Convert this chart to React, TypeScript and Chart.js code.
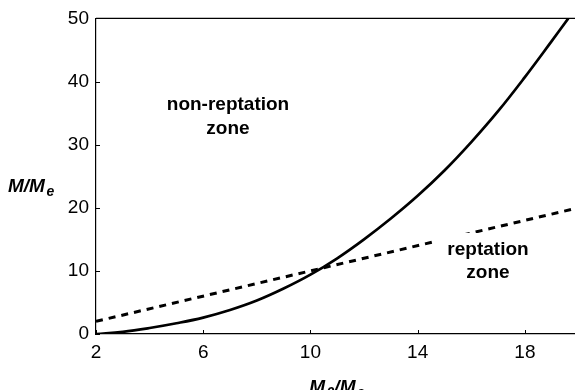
import React, { useEffect, useRef } from "react";
import { Chart, registerables } from "chart.js";

Chart.register(...registerables);

const CURVE_X = [2, 3, 4, 5, 6, 7, 8, 9, 10, 11, 12, 13, 14, 15, 16, 17, 18, 19, 19.62];
const CURVE_Y = [0, 0.35, 0.95, 1.7, 2.6, 3.8, 5.3, 7.2, 9.4, 12.0, 15.0, 18.3, 21.9, 25.9, 30.4, 35.3, 40.7, 46.4, 50];
const LINE_X = [2, 20];
const LINE_Y = [2, 20];
const X_TICKS = [2, 6, 10, 14, 18];
const Y_TICKS = [0, 10, 20, 30, 40, 50];

const FONT = "'Liberation Sans', Arial, Helvetica, sans-serif";

const decorPlugin = {
  id: "decor",
  afterDatasetsDraw(chart: any) {
    const { ctx } = chart;
    ctx.save();
    // white label box over dashed line
    ctx.fillStyle = "#fff";
    ctx.fillRect(436, 233, 104, 52);
    ctx.restore();
  },
  afterDraw(chart: any) {
    const { ctx, chartArea, scales } = chart;
    const { left, right, top, bottom } = chartArea;
    ctx.save();
    ctx.strokeStyle = "#000";
    ctx.lineWidth = 1.2;
    // top border
    ctx.beginPath();
    ctx.moveTo(left, top);
    ctx.lineTo(right, top);
    ctx.stroke();
    // inward ticks
    ctx.lineWidth = 1;
    for (const v of X_TICKS) {
      const px = Math.round(scales.x.getPixelForValue(v)) + 0.5;
      ctx.beginPath();
      ctx.moveTo(px, bottom);
      ctx.lineTo(px, bottom - 4);
      ctx.stroke();
    }
    for (const v of Y_TICKS) {
      const py = Math.round(scales.y.getPixelForValue(v)) + 0.5;
      ctx.beginPath();
      ctx.moveTo(left, py);
      ctx.lineTo(left + 4, py);
      ctx.stroke();
    }
    // annotations
    ctx.fillStyle = "#000";
    ctx.textAlign = "center";
    ctx.textBaseline = "alphabetic";
    ctx.font = `bold 19px ${FONT}`;
    ctx.fillText("non-reptation", 228, 110);
    ctx.fillText("zone", 228, 134);
    ctx.fillText("reptation", 488, 255);
    ctx.fillText("zone", 488, 278);

    // axis titles with subscripts
    const drawParts = (parts: { t: string; sub: boolean }[], x: number, base: number, align: string) => {
      const big = `italic bold 19px ${FONT}`;
      const small = `italic bold 14px ${FONT}`;
      let total = 0;
      for (const p of parts) {
        ctx.font = p.sub ? small : big;
        total += ctx.measureText(p.t).width + (p.sub ? 1.5 : 0);
      }
      let cx = align === "center" ? x - total / 2 : x;
      ctx.textAlign = "left";
      for (const p of parts) {
        ctx.font = p.sub ? small : big;
        ctx.fillText(p.t, cx + (p.sub ? 1.5 : 0), base + (p.sub ? 4 : 0));
        cx += ctx.measureText(p.t).width + (p.sub ? 1.5 : 0);
      }
    };
    drawParts(
      [
        { t: "M/M", sub: false },
        { t: "e", sub: true },
      ],
      8,
      192,
      "left"
    );
    drawParts(
      [
        { t: "M", sub: false },
        { t: "0", sub: true },
        { t: "/M", sub: false },
        { t: "e", sub: true },
      ],
      337,
      393,
      "center"
    );
    ctx.restore();
  },
};

export default function App() {
  const ref = useRef<HTMLCanvasElement>(null);
  useEffect(() => {
    const canvas = ref.current;
    if (!canvas) return;
    const chart = new Chart(canvas, {
      type: "line",
      data: {
        datasets: [
          {
            data: CURVE_X.map((x, i) => ({ x, y: CURVE_Y[i] })),
            borderColor: "#000",
            borderWidth: 2.7,
            pointRadius: 0,
            tension: 0.4,
            fill: false,
          },
          {
            data: LINE_X.map((x, i) => ({ x, y: LINE_Y[i] })),
            borderColor: "#000",
            borderWidth: 3,
            borderDash: [7, 6],
            pointRadius: 0,
            fill: false,
          },
        ],
      },
      options: {
        responsive: false,
        animation: false,
        devicePixelRatio: 1,
        layout: { padding: { top: 17, right: 0, left: 0, bottom: 0 } },
        plugins: { legend: { display: false }, tooltip: { enabled: false } },
        scales: {
          x: {
            type: "linear",
            min: 2,
            max: 19.87,
            afterBuildTicks: (s: any) => {
              s.ticks = X_TICKS.map((v) => ({ value: v }));
            },
            afterFit: (s: any) => {
              s.height = 56;
            },
            grid: { display: false, drawTicks: false },
            border: { display: true, color: "#000", width: 1.2 },
            ticks: {
              color: "#000",
              font: { family: FONT, size: 19 },
              padding: 7,
              maxRotation: 0,
              autoSkip: false,
            },
          },
          y: {
            type: "linear",
            min: 0,
            max: 50,
            afterBuildTicks: (s: any) => {
              s.ticks = Y_TICKS.map((v) => ({ value: v }));
            },
            afterFit: (s: any) => {
              s.width = 96;
            },
            grid: { display: false, drawTicks: false },
            border: { display: true, color: "#000", width: 1.2 },
            ticks: {
              color: "#000",
              font: { family: FONT, size: 19 },
              padding: 7,
              autoSkip: false,
            },
          },
        },
      },
      plugins: [decorPlugin],
    } as any);
    return () => chart.destroy();
  }, []);
  return (
    <div style={{ position: "absolute", left: 0, top: 0, width: 575, height: 390, background: "#fff" }}>
      <canvas ref={ref} width={575} height={390} style={{ width: 575, height: 390, display: "block" }} />
    </div>
  );
}
